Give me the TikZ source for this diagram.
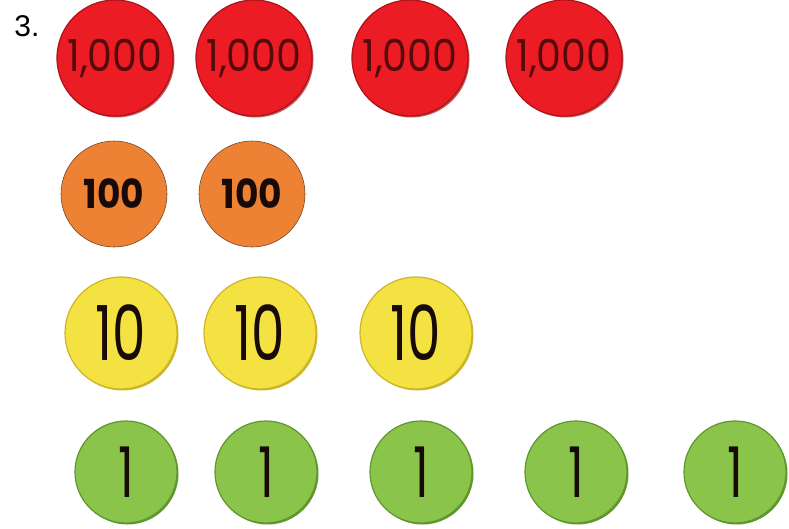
\documentclass[tikz,border=0pt]{standalone}
\usepackage{fontspec}
\setmainfont{Liberation Sans}
\newfontfamily\chipfont[FakeStretch=0.7]{Poppins}
\newfontfamily\widechipfont[FakeStretch=0.9]{Poppins}
\usepackage{tikz}
\usetikzlibrary{positioning}
\definecolor{ChipRed}{RGB}{236,28,36}
\definecolor{ChipRedEdge}{RGB}{170,20,25}
\definecolor{ChipOrange}{RGB}{238,130,52}
\definecolor{ChipOrangeEdge}{RGB}{120,70,40}
\definecolor{ChipYellow}{RGB}{244,226,66}
\definecolor{ChipYellowEdge}{RGB}{205,180,40}
\definecolor{ChipGreen}{RGB}{139,196,74}
\definecolor{ChipGreenEdge}{RGB}{95,150,45}
\definecolor{ChipInk}{RGB}{25,10,10}

\begin{document}
\begin{tikzpicture}[x=1pt, y=-1pt,
          chip/.style={circle, inner sep=0pt, line width=1.2pt,
                       text=ChipInk, font=\chipfont},
          thousand/.style={chip, fill=ChipRed, draw=ChipRedEdge,
                           minimum size=116pt, text=ChipRedEdge!50!black,
                           font=\widechipfont\fontsize{44}{44}\selectfont,
                           preaction={fill=ChipRedEdge!70,
                             transform canvas={shift={(1.5pt,-1.5pt)}}}},
          hundred/.style={chip, fill=ChipOrange, draw=ChipOrangeEdge,
                          line width=0.6pt, minimum size=106pt,
                          font=\widechipfont\bfseries\fontsize{40}{40}\selectfont},
          ten/.style={chip, fill=ChipYellow, draw=ChipYellowEdge,
                      minimum size=112pt,
                      font=\chipfont\fontsize{76}{76}\selectfont,
                      preaction={fill=ChipYellowEdge,
                        transform canvas={shift={(1.5pt,-1.5pt)}}}},
          one/.style={chip, fill=ChipGreen, draw=ChipGreenEdge,
                      minimum size=102pt,
                      font=\chipfont\fontsize{70}{70}\selectfont,
                      preaction={fill=ChipGreenEdge,
                        transform canvas={shift={(1.5pt,-1.5pt)}}}}
        ]
        \useasboundingbox (0,0) rectangle (789,528);

        % Exercise number
        \node[font=\fontsize{30}{30}\selectfont] (num) at (27,26) {3.};

        % Thousands
        \node[thousand] (th1) at (115,58) {1,000};
        \node[thousand] (th2) at (254,58) {1,000};
        \node[thousand] (th3) at (410,58) {1,000};
        \node[thousand] (th4) at (564,58) {1,000};

        % Hundreds
        \node[hundred] (hu1) at (114,194) {100};
        \node[hundred] (hu2) at (252,194) {100};

        % Tens
        \node[ten] (te1) at (121,333) {10};
        \node[ten] (te2) at (260,333) {10};
        \node[ten] (te3) at (416,333) {10};

        % Ones
        \node[one] (on1) at (126,472) {1};
        \node[one] (on2) at (266,472) {1};
        \node[one] (on3) at (421,472) {1};
        \node[one] (on4) at (576,472) {1};
        \node[one] (on5) at (735,472) {1};
      \end{tikzpicture}
\end{document}
